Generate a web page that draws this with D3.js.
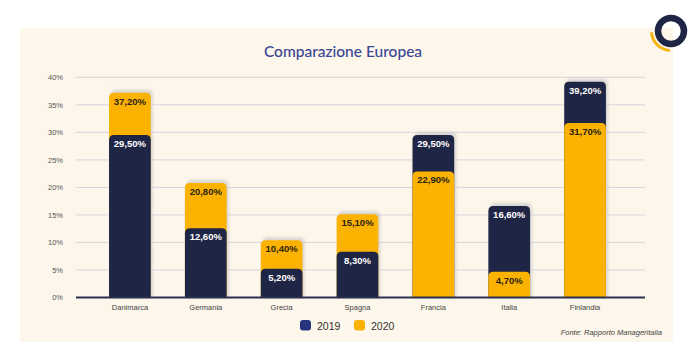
<!DOCTYPE html>
<html>
<head>
<meta charset="utf-8">
<script src="https://cdn.jsdelivr.net/npm/d3@7"></script>
<style>
  html, body { margin: 0; padding: 0; background: #ffffff; }
  svg { display: block; }
</style>
</head>
<body>
<svg id="chart" width="700" height="357"></svg>
<script>
const categories = ["Danimarca", "Germania", "Grecia", "Spagna", "Francia", "Italia", "Finlandia"];
const values2019 = [29.5, 12.6, 5.2, 8.3, 29.5, 16.6, 39.2];
const values2020 = [37.2, 20.8, 10.4, 15.1, 22.9, 4.7, 31.7];
const seriesNames = ["2019", "2020"];
const yTicks = [0, 5, 10, 15, 20, 25, 30, 35, 40];
const title = "Comparazione Europea";
const source = "Fonte: Rapporto Manageritalia";

const colors = { "2019": "#1f2545", "2020": "#fbb201" };
const legendColors = { "2019": "#27337d", "2020": "#fbb201" };

const svg = d3.select("#chart");
const defs = svg.append("defs");
const f = defs.append("filter").attr("id", "blur").attr("x", "-20%").attr("y", "-20%").attr("width", "140%").attr("height", "140%");
f.append("feGaussianBlur").attr("stdDeviation", 1.5);

// panel
svg.append("rect").attr("x", 20).attr("y", 28).attr("width", 653).attr("height", 314).attr("fill", "#fdf6ea");

// logo
const logo = svg.append("g").attr("transform", "translate(671,31)");
logo.append("circle").attr("r", 13).attr("fill", "none").attr("stroke", "#1f2545").attr("stroke-width", 6.5);
logo.append("path")
  .attr("d", d3.arc()({ innerRadius: 18, outerRadius: 21, startAngle: -Math.PI * 0.52, endAngle: -Math.PI * 0.98 }))
  .attr("fill", "#f5b50f");

// title
svg.append("text").attr("x", 343).attr("y", 56.5).attr("text-anchor", "middle")
  .attr("font-family", "Lato, 'Open Sans', sans-serif").attr("font-size", 15.5).attr("font-weight", 500)
  .attr("fill", "#3a4696").text(title);

const x = d3.scaleBand().domain(categories).range([92, 623]).paddingInner(0.45).paddingOuter(0.225);
const y = d3.scaleLinear().domain([0, 40]).range([297.5, 77.3]);

// grid
const grid = svg.append("g");
grid.selectAll("line").data(yTicks.filter(d => d > 0)).join("line")
  .attr("x1", 76).attr("x2", 645)
  .attr("y1", d => y(d)).attr("y2", d => y(d))
  .attr("stroke", "#d8d4de").attr("stroke-width", 1);

// y axis labels
const yAxis = d3.axisLeft(y).tickValues(yTicks).tickFormat(d => d + "%").tickSize(0).tickPadding(0);
const ya = svg.append("g").attr("transform", "translate(63,0)").call(yAxis);
ya.select(".domain").remove();
ya.selectAll("text").attr("font-family", "'Liberation Sans', Arial, sans-serif").attr("font-size", 7.5).attr("fill", "#555");

function barPath(x0, w, yTop, yBase, r) {
  r = Math.min(r, (yBase - yTop));
  return `M${x0},${yBase}V${yTop + r}Q${x0},${yTop} ${x0 + r},${yTop}H${x0 + w - r}Q${x0 + w},${yTop} ${x0 + w},${yTop + r}V${yBase}Z`;
}

const data = categories.map((c, i) => {
  const segs = [
    { cat: c, key: "2019", value: values2019[i] },
    { cat: c, key: "2020", value: values2020[i] }
  ].sort((a, b) => b.value - a.value);
  return { cat: c, segs };
});

const bw = x.bandwidth();
const groups = svg.append("g").selectAll("g").data(data).join("g");

// shadow behind the back bar
groups.append("path")
  .attr("d", d => barPath(x(d.cat) + 2, bw, y(d.segs[0].value) - 3, y(0), 5))
  .attr("fill", "#c9c9c9").attr("opacity", 0.7).attr("filter", "url(#blur)");

groups.each(function(d) {
  const g = d3.select(this);
  d.segs.forEach(s => {
    g.append("path")
      .attr("d", barPath(x(s.cat), bw, y(s.value), y(0), 5))
      .attr("fill", colors[s.key]);
  });
  d.segs.forEach(s => {
    g.append("text")
      .attr("x", x(s.cat) + bw / 2).attr("y", y(s.value) + 12)
      .attr("text-anchor", "middle")
      .attr("font-family", "'Liberation Sans', Arial, sans-serif")
      .attr("font-size", 9.5).attr("font-weight", "bold")
      .attr("fill", s.key === "2019" ? "#ffffff" : "#2a2310")
      .text(s.value.toFixed(2).replace(".", ",") + "%");
  });
});

// baseline
svg.append("line").attr("x1", 76).attr("x2", 645).attr("y1", y(0)).attr("y2", y(0))
  .attr("stroke", "#2b3050").attr("stroke-width", 2);

// x axis labels
const xAxis = d3.axisBottom(x).tickSize(0).tickPadding(0);
const xa = svg.append("g").attr("transform", `translate(0,${y(0) + 12})`).call(xAxis);
xa.select(".domain").remove();
xa.selectAll("text").attr("font-family", "'Liberation Sans', Arial, sans-serif").attr("font-size", 7.5).attr("fill", "#444").attr("dy", "0");

// legend
const legend = svg.append("g").attr("transform", "translate(300,320)");
const li = legend.selectAll("g").data(seriesNames).join("g").attr("transform", (d, i) => `translate(${i * 54},0)`);
li.append("rect").attr("width", 11).attr("height", 10.5).attr("rx", 3).attr("fill", d => legendColors[d]);
li.append("text").attr("x", 17).attr("y", 9.5).attr("font-family", "'Liberation Sans', Arial, sans-serif")
  .attr("font-size", 10.5).attr("fill", "#333").text(d => d);

// source
svg.append("text").attr("x", 662).attr("y", 335).attr("text-anchor", "end")
  .attr("font-family", "'Liberation Sans', Arial, sans-serif").attr("font-size", 7.5).attr("font-style", "italic")
  .attr("fill", "#444").text(source);
</script>
</body>
</html>
